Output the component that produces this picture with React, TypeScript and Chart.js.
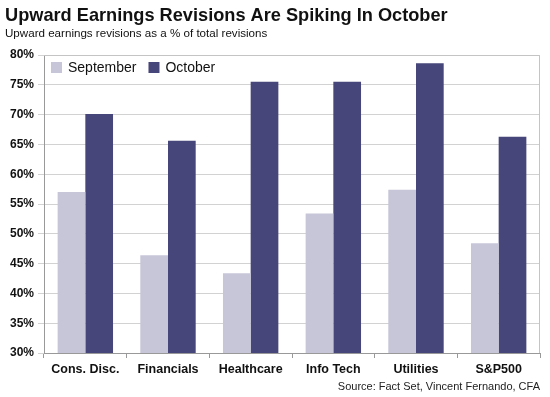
import React, { useEffect, useRef } from 'react';
import { Chart, registerables } from 'chart.js';

Chart.register(...registerables);

const TITLE = 'Upward Earnings Revisions Are Spiking In October';
const SUBTITLE = 'Upward earnings revisions as a % of total revisions';
const SOURCE = 'Source: Fact Set, Vincent Fernando, CFA';

const categories = ['Cons. Disc.', 'Financials', 'Healthcare', 'Info Tech', 'Utilities', 'S&P500'];
const september = [57.0, 46.4, 43.4, 53.4, 57.4, 48.4];
const october = [70.1, 65.6, 75.5, 75.5, 78.6, 66.3];
const yMin = 30;
const yMax = 80;
const yStep = 5;

const FONT = '"Liberation Sans", Arial, Helvetica, sans-serif';

export default function App() {
  const ref = useRef<HTMLCanvasElement>(null);

  useEffect(() => {
    if (!ref.current) return;
    const textPlugin = {
      id: 'texts',
      afterDraw(chart: any) {
        const ctx = chart.ctx as CanvasRenderingContext2D;
        const a = chart.chartArea;
        ctx.save();
        ctx.strokeStyle = '#c4c4c4';
        ctx.lineWidth = 1;
        ctx.beginPath();
        ctx.moveTo(a.left, Math.round(a.top) + 0.5);
        ctx.lineTo(Math.round(a.right) - 0.5, Math.round(a.top) + 0.5);
        ctx.lineTo(Math.round(a.right) - 0.5, a.bottom);
        ctx.stroke();

        // legend inside plot area
        ctx.font = `14px ${FONT}`;
        ctx.textBaseline = 'middle';
        ctx.textAlign = 'left';
        let x = a.left + 7;
        const cy = a.top + 12;
        chart.data.datasets.forEach((ds: any) => {
          ctx.fillStyle = ds.backgroundColor;
          ctx.fillRect(x, cy - 5, 11, 11);
          ctx.fillStyle = '#111';
          ctx.fillText(ds.label, x + 17, cy + 1);
          x += 17 + ctx.measureText(ds.label).width + 12;
        });

        ctx.fillStyle = '#111';
        ctx.textAlign = 'left';
        ctx.textBaseline = 'alphabetic';
        ctx.font = `bold 18.2px ${FONT}`;
        ctx.fillText(TITLE, 5, 21);
        ctx.font = `11.6px ${FONT}`;
        ctx.fillText(SUBTITLE, 5, 37);
        ctx.textAlign = 'right';
        ctx.font = `11px ${FONT}`;
        ctx.fillStyle = '#222';
        ctx.fillText(SOURCE, 540, 390);
        ctx.restore();
      },
    };

    const chart = new Chart(ref.current, {
      type: 'bar',
      data: {
        labels: categories,
        datasets: [
          { label: 'September', data: september, backgroundColor: '#c6c6d8', borderWidth: 0 },
          { label: 'October', data: october, backgroundColor: '#46467a', borderWidth: 0 },
        ],
      },
      options: {
        responsive: false,
        devicePixelRatio: 1,
        animation: false,
        layout: { padding: { left: 0, right: 10, top: 55, bottom: 0 } },
        datasets: { bar: { categoryPercentage: 0.67, barPercentage: 1.0 } },
        plugins: {
          title: { display: false },
          tooltip: { enabled: false },
          legend: { display: false },
        },
        scales: {
          x: {
            afterFit: (s: any) => { s.height = 44; },
            grid: {
              offset: true,
              drawOnChartArea: false,
              drawTicks: true,
              tickLength: 5,
              color: '#999',
            },
            border: { display: true, color: '#999', width: 1 },
            ticks: {
              color: '#111',
              padding: 4,
              font: { family: FONT, size: 12.5, weight: 'bold' },
            },
          },
          y: {
            min: yMin,
            max: yMax,
            afterFit: (s: any) => { s.width = 44; },
            grid: { color: '#d2d2d2', drawTicks: true, tickLength: 6 },
            border: { display: true, color: '#999', width: 1 },
            ticks: {
              stepSize: yStep,
              color: '#111',
              padding: 4,
              font: { family: FONT, size: 12, weight: 'bold' },
              callback: (v: any) => `${v}%`,
            },
          },
        },
      },
      plugins: [textPlugin],
    });
    return () => chart.destroy();
  }, []);

  return (
    <div style={{ position: 'fixed', left: 0, top: 0, width: 550, height: 397, background: '#fff' }}>
      <canvas ref={ref} width={550} height={397} />
    </div>
  );
}
